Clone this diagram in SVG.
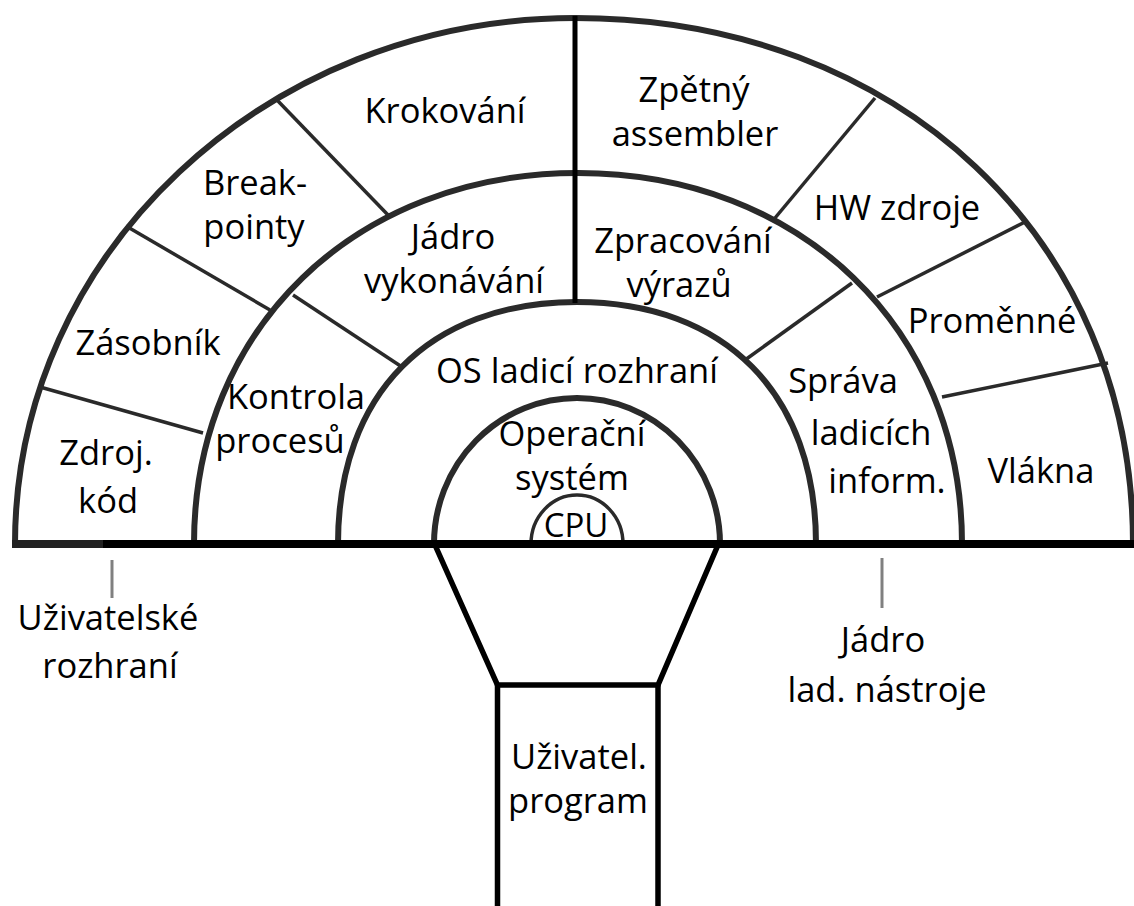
<svg xmlns="http://www.w3.org/2000/svg" width="1134" height="906" viewBox="0 0 1134 906">
<style>
.arc{fill:none;stroke:#2a2a2a;stroke-width:6;stroke-linecap:round}
.div{fill:none;stroke:#2a2a2a;stroke-width:3.5}
.blk{fill:none;stroke:#000;stroke-linecap:butt}
.tick{stroke:#808080;stroke-width:3}
text{font-family:"Open Sans","Noto Sans","Liberation Sans",sans-serif;font-size:34.5px;fill:#000;text-anchor:middle}
</style>
<rect x="0" y="0" width="1134" height="906" fill="#fff"/>
<g id="rings">
<path class="arc" d="M15,544 C15,253.6 265.9,18 575,18 C898.6,18 1133,238.9 1133,544"/>
<path class="arc" d="M194,544 C194,328.8 355.3,173 578,173 C800.7,173 962,328.8 962,544"/>
<path class="arc" d="M338,544 C338,394 428.8,302 577,302 C725.2,302 816,394 816,544"/>
<path class="arc" d="M434,544 A143,146 0 0 1 720,544"/>
<path class="arc" style="stroke-width:3.5" d="M531,544 A46,49 0 0 1 623,544"/>
</g>
<g id="connectors">
<line class="div" x1="40" y1="387" x2="203" y2="433"/>
<line class="div" x1="126" y1="226" x2="270" y2="310"/>
<line class="div" x1="277" y1="100" x2="388" y2="215"/>
<line class="blk" style="stroke-width:5" x1="575" y1="16" x2="575" y2="303"/>
<line class="div" x1="875" y1="98" x2="775" y2="218"/>
<line class="div" x1="1025" y1="222" x2="877" y2="297"/>
<line class="div" x1="1108" y1="363" x2="942" y2="397"/>
<line class="div" x1="293" y1="295" x2="402" y2="367"/>
<line class="div" x1="852" y1="283" x2="745" y2="360"/>
<line x1="12" y1="544" x2="104" y2="544" stroke="#222" stroke-width="8"/>
<line class="blk" style="stroke-width:8" x1="103" y1="544" x2="1134" y2="544"/>
<polyline class="blk" style="stroke-width:5.5;stroke-linejoin:miter" points="435,545 497.5,685 658,685 718,545"/>
<line class="blk" style="stroke-width:5.5" x1="497.5" y1="683" x2="497.5" y2="906"/>
<line class="blk" style="stroke-width:5.5" x1="658" y1="683" x2="658" y2="906"/>
<line class="tick" x1="112" y1="560" x2="112" y2="598"/>
<line class="tick" x1="882" y1="558" x2="882" y2="608"/>
</g>
<g id="krokovani"><text x="445" y="123">Krokování</text></g>
<g id="zpetny-assembler"><text x="694" y="102">Zpětný</text><text x="695" y="146">assembler</text></g>
<g id="breakpointy"><text x="255" y="195">Break-</text><text x="254" y="239">pointy</text></g>
<g id="hw-zdroje"><text x="897" y="220">HW zdroje</text></g>
<g id="zasobnik"><text x="148" y="355">Zásobník</text></g>
<g id="jadro-vykonavani"><text x="453" y="249">Jádro</text><text x="454" y="293">vykonávání</text></g>
<g id="zpracovani-vyrazu"><text x="683" y="253">Zpracování</text><text x="679" y="297">výrazů</text></g>
<g id="promenne"><text x="992" y="333">Proměnné</text></g>
<g id="kontrola-procesu"><text x="296" y="409">Kontrola</text><text x="280" y="453">procesů</text></g>
<g id="os-ladici-rozhrani"><text x="577" y="383">OS ladicí rozhraní</text></g>
<g id="sprava-ladicich"><text x="843" y="393">Správa</text><text x="871" y="445">ladicích</text><text x="887" y="493">inform.</text></g>
<g id="zdroj-kod"><text x="106" y="465">Zdroj.</text><text x="108" y="513">kód</text></g>
<g id="vlakna"><text x="1041" y="483">Vlákna</text></g>
<g id="operacni-system"><text x="572" y="446">Operační</text><text x="572" y="490">systém</text></g>
<g id="cpu"><text x="576" y="537" style="font-size:33px">CPU</text></g>
<g id="uzivatelske-rozhrani"><text x="108" y="630">Uživatelské</text><text x="110" y="678">rozhraní</text></g>
<g id="jadro-lad-nastroje"><text x="883" y="652">Jádro</text><text x="887" y="702">lad. nástroje</text></g>
<g id="uzivatel-program"><text x="579" y="769">Uživatel.</text><text x="578" y="813">program</text></g>
</svg>
